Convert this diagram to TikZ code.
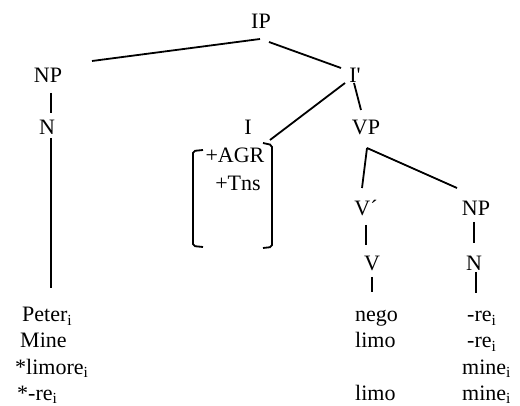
\documentclass[tikz,border=0pt]{standalone}
\usepackage{fontspec}
\setmainfont{Liberation Serif}
\begin{document}
\begin{tikzpicture}[x=1pt,y=-1pt,
  lab/.style={inner sep=0pt, font=\fontsize{22}{26}\selectfont},
  term/.style={inner sep=0pt, anchor=base west, font=\fontsize{22}{26}\selectfont},
  edge/.style={line width=1.8pt}]
\useasboundingbox[fill=white] (0,0) rectangle (520,406);
% tree labels
\node[lab] (IP) at (261,21) {IP};
\node[lab] (NP) at (48,75) {NP};
\node[lab] (Ib) at (355,75) {I\textquotesingle};
\node[lab] (N) at (47,127) {N};
\node[lab] (I) at (248,127) {I};
\node[lab] (VP) at (366,127) {VP};
\node[lab] (agr) at (235,155) {+AGR};
\node[lab] (tns) at (238,183) {+Tns};
\node[lab] (Vb) at (366,208) {V´};
\node[lab] (NP2) at (476,208) {NP};
\node[lab] (V) at (372,263) {V};
\node[lab] (N2) at (474,263) {N};
% terminals
\node[term] (peter) at (22,322) {Peter\textsubscript{i}};
\node[term] (mine) at (20,348) {Mine};
\node[term] (limore) at (15,374) {*limore\textsubscript{i}};
\node[term] (rea) at (17,400) {*-re\textsubscript{i}};
\node[term] (nego) at (355,322) {nego};
\node[term] (limo1) at (355,348) {limo};
\node[term] (limo2) at (355,400) {limo};
\node[term] (re1) at (467,322) {-re\textsubscript{i}};
\node[term] (re2) at (467,348) {-re\textsubscript{i}};
\node[term] (mine1) at (462,374) {mine\textsubscript{i}};
\node[term] (mine2) at (462,400) {mine\textsubscript{i}};
% connectors
\draw[edge] ([shift={(-1,18)}]IP.center) -- ([shift={(44,-14)}]NP.center);
\draw[edge] ([shift={(8,21)}]IP.center) -- ([shift={(-14,-7)}]Ib.center);
\draw[edge] ([shift={(3,18)}]NP.center) -- ([shift={(4,-14)}]N.center);
\draw[edge] ([shift={(-10,8)}]Ib.center) -- ([shift={(22,13)}]I.center);
\draw[edge] ([shift={(-1,8)}]Ib.center) -- ([shift={(-5,-17)}]VP.center);
\draw[edge] ([shift={(1,21)}]VP.center) -- ([shift={(-4,-20)}]Vb.center);
\draw[edge] ([shift={(1,21)}]VP.center) -- ([shift={(-19,-20)}]NP2.center);
\draw[edge] ([shift={(0,17)}]Vb.center) -- ([shift={(-6,-18)}]V.center);
\draw[edge] ([shift={(-2,14)}]NP2.center) -- ([shift={(0,-20)}]N2.center);
\draw[edge] ([shift={(0,14)}]V.center) -- ([shift={(17,-30)}]nego.base west);
\draw[edge] ([shift={(2,9)}]N2.center) -- ([shift={(9,-29)}]re1.base west);
\draw[edge] ([shift={(4,11)}]N.center) -- ([shift={(29,-34)}]peter.base west);
% feature brackets
\draw[edge, rounded corners=2pt] (203,150) -- (193,151) -- (193,246) -- (203,247);
\draw[edge, rounded corners=2pt] (263,143) -- (272,145) -- (272,247) -- (263,248);
\end{tikzpicture}
\end{document}
